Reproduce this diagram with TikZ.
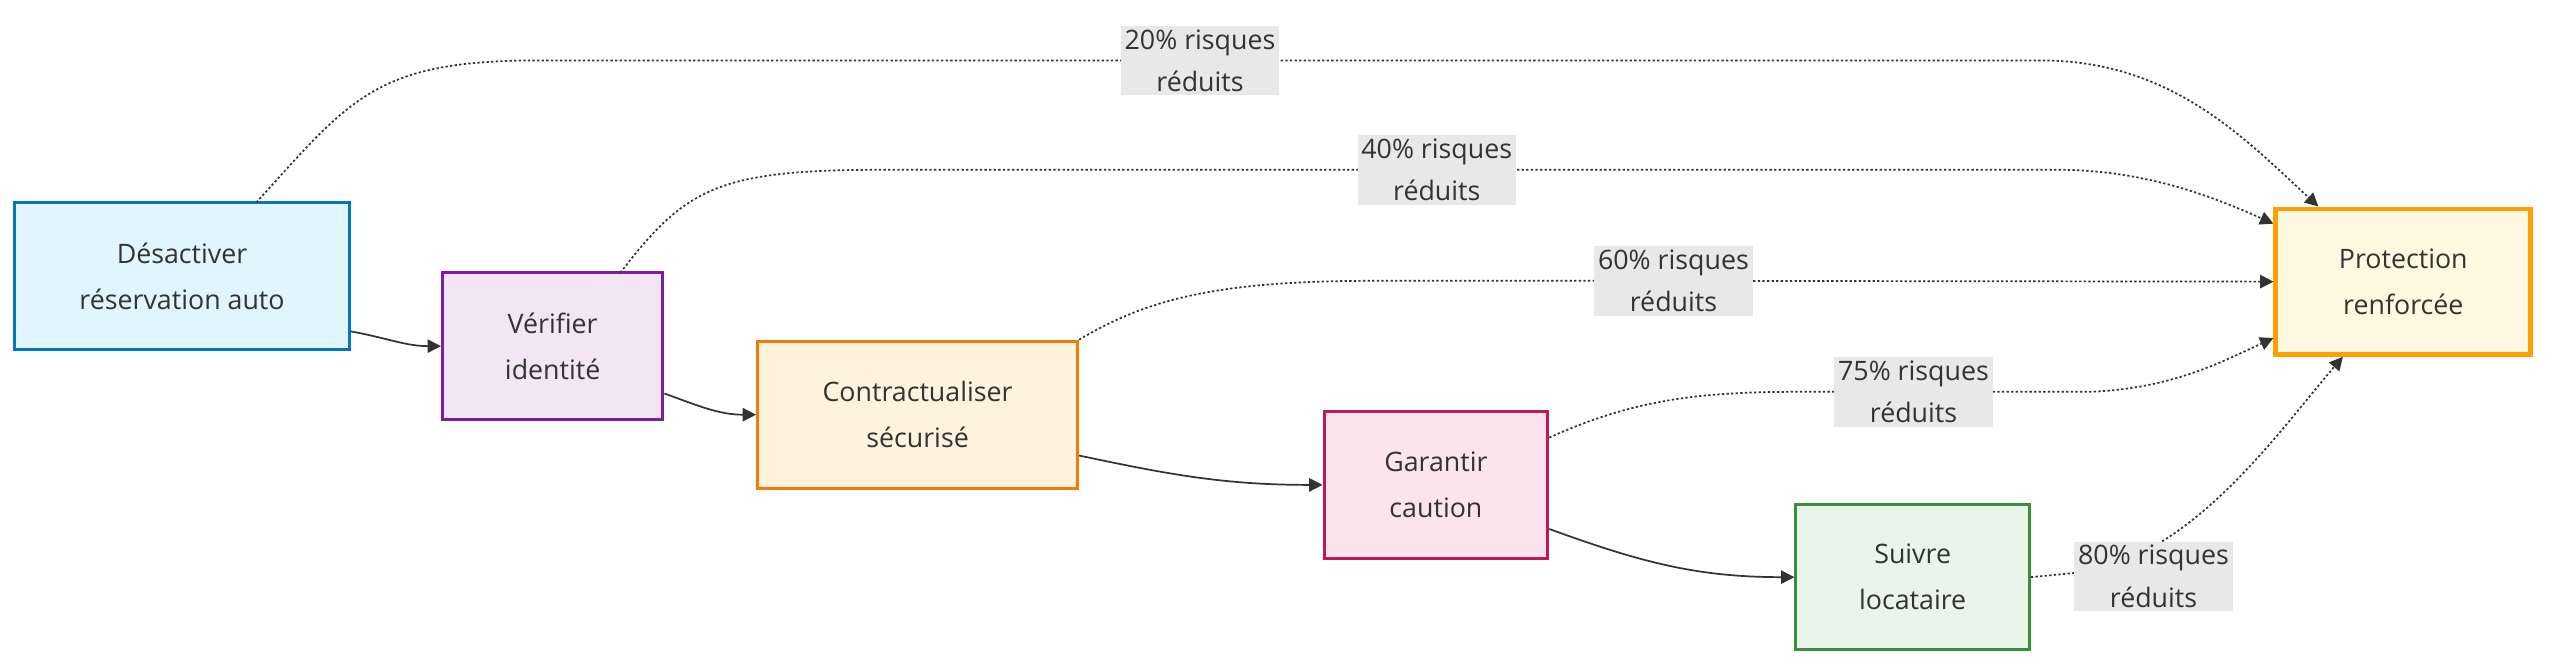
\documentclass[tikz,border=0pt]{standalone}
\usepackage{fontspec}
\setmainfont{Open Sans}
\usetikzlibrary{arrows.meta}
\definecolor{cA}{HTML}{0277BD}\definecolor{fA}{HTML}{E1F5FE}
\definecolor{cB}{HTML}{7B1FA2}\definecolor{fB}{HTML}{F3E5F5}
\definecolor{cC}{HTML}{F57C00}\definecolor{fC}{HTML}{FFF3E0}
\definecolor{cD}{HTML}{C2185B}\definecolor{fD}{HTML}{FCE4EC}
\definecolor{cE}{HTML}{388E3C}\definecolor{fE}{HTML}{E8F5E9}
\definecolor{cF}{HTML}{FFA000}\definecolor{fF}{HTML}{FFF8E1}
\definecolor{ink}{HTML}{333333}
\tikzset{
  stage/.style={draw, line width=1.6pt, align=center, font=\fontsize{14}{24}\selectfont, text=ink},
  lbl/.style={fill=black!9, align=center, font=\fontsize{14}{22}\selectfont, text=ink, inner sep=2pt},
  flow/.style={ink, line width=0.9pt, -{Triangle[length=7pt,width=7pt]}},
  gain/.style={ink, line width=0.9pt, dash pattern=on 1.2pt off 1.2pt, -{Triangle[length=7pt,width=7pt]}}
}
\begin{document}
\begin{tikzpicture}[x=0.03cm, y=-0.03cm]
\useasboundingbox[fill=white] (0,0) rectangle (1568,410);
\node[stage, draw=cA, fill=fA, minimum width=205*0.03cm, minimum height=90*0.03cm] (desact) at (111.5,169) {Désactiver\\réservation auto};
\node[stage, draw=cB, fill=fB, minimum width=135*0.03cm, minimum height=90*0.03cm] (verif) at (338.5,212) {Vérifier\\identité};
\node[stage, draw=cC, fill=fC, minimum width=196*0.03cm, minimum height=90*0.03cm] (contrat) at (562,254) {Contractualiser\\sécurisé};
\node[stage, draw=cD, fill=fD, minimum width=137*0.03cm, minimum height=90*0.03cm] (caution) at (879.5,297) {Garantir\\caution};
\node[stage, draw=cE, fill=fE, minimum width=143*0.03cm, minimum height=89*0.03cm] (suivi) at (1171.5,353.5) {Suivre\\locataire};
\node[stage, draw=cF, fill=fF, line width=2.6pt, minimum width=156*0.03cm, minimum height=89*0.03cm] (protect) at (1472,172.5) {Protection\\renforcée};
% steps
\draw[flow] (desact.east |- 0,203) to[out=-10,in=180] (verif.west);
\draw[flow] (verif.east |- 0,241) to[out=-20,in=180] (contrat.west);
\draw[flow] (contrat.east |- 0,279) to[out=-12,in=180] (caution.west);
\draw[flow] (caution.east |- 0,324) to[out=-20,in=180] (suivi.west);
% gains
\coordinate (g20) at (735,37);
\coordinate (g40) at (880,104);
\coordinate (g60) at (1025,172);
\coordinate (g75) at (1172,240);
\coordinate (g80) at (1319,353);
\draw[gain] (157,124) .. controls (215,60) and (230,37) .. (330,37) -- (g20) -- (1250,37)
  .. controls (1330,37) and (1375,85) .. (protect.north -| 1420,0);
\draw[gain] (380,167) .. controls (420,115) and (440,104) .. (540,104) -- (g40) -- (1260,104)
  .. controls (1310,104) and (1350,118) .. (protect.west |- 0,137);
\draw[gain] (contrat.north east) .. controls (700,185) and (740,172) .. (840,172) -- (g60) -- (protect.west);
\draw[gain] (caution.east |- 0,268) .. controls (1000,245) and (1040,240) .. (1100,240) -- (g75) -- (1280,240)
  .. controls (1330,238) and (1360,222) .. (protect.west |- 0,207);
\draw[gain] (suivi.east) -- (1270,351) .. controls (1340,345) and (1395,265) .. (protect.south -| 1435,0);
\node[lbl] (l20) at (g20) {20\% risques\\réduits};
\node[lbl] (l40) at (g40) {40\% risques\\réduits};
\node[lbl] (l60) at (g60) {60\% risques\\réduits};
\node[lbl] (l75) at (g75) {75\% risques\\réduits};
\node[lbl] (l80) at (g80) {80\% risques\\réduits};
\end{tikzpicture}
\end{document}
